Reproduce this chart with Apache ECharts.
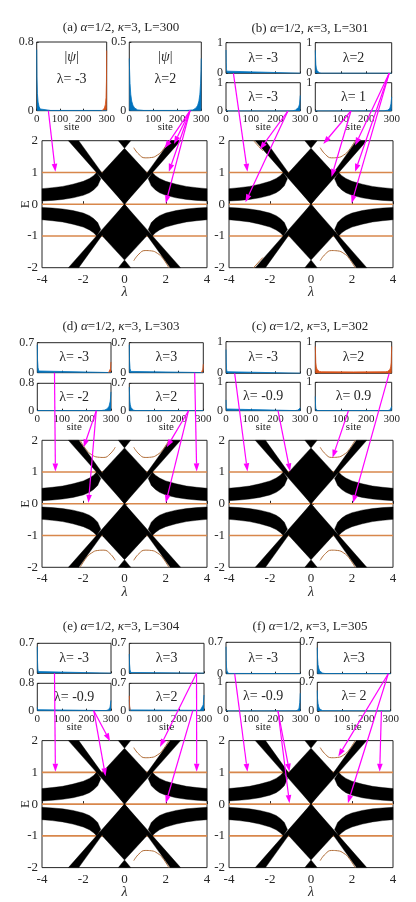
<!DOCTYPE html>
<html>
<head>
<meta charset="utf-8">
<script src="https://cdn.jsdelivr.net/npm/echarts/dist/echarts.min.js"></script>
<style>
  html, body { margin: 0; padding: 0; background: #fff; }
  #chart { width: 416px; height: 902px; }
</style>
</head>
<body>
<div id="chart"></div>
<script>
const FONT = '"Liberation Serif", "DejaVu Serif", serif';
const INK = '#262626';
const BLUE = '#0072BD';
const ORANGE = '#D95319';
const LEVEL = '#d8874b';
const ARC = '#b06c36';
const MAGENTA = '#ff00ff';

// ---- bulk spectrum (black), outlines as [lambda, E]
const bandUpperLeft = [[-4,0.49],[-3.5,0.52],[-3,0.56],[-2.5,0.63],[-2,0.72],[-1.7,0.81],[-1.5,0.9],[-1.35,1.0],[-1.15,0.8],[-1.3,0.58],[-1.5,0.45],[-1.7,0.36],[-2,0.28],[-2.5,0.2],[-3,0.15],[-3.5,0.12],[-4,0.1]];
const bandUpperRight = [[4,0.49],[3.5,0.52],[3,0.56],[2.5,0.63],[2,0.72],[1.7,0.81],[1.5,0.9],[1.35,1.0],[1.15,0.8],[1.3,0.58],[1.5,0.45],[1.7,0.36],[2,0.28],[2.5,0.2],[3,0.15],[3.5,0.12],[4,0.1]];
const bandLowerLeft = [[-4,-0.49],[-3.5,-0.52],[-3,-0.56],[-2.5,-0.63],[-2,-0.72],[-1.7,-0.81],[-1.5,-0.9],[-1.35,-1.0],[-1.15,-0.8],[-1.3,-0.58],[-1.5,-0.45],[-1.7,-0.36],[-2,-0.28],[-2.5,-0.2],[-3,-0.15],[-3.5,-0.12],[-4,-0.1]];
const bandLowerRight = [[4,-0.49],[3.5,-0.52],[3,-0.56],[2.5,-0.63],[2,-0.72],[1.7,-0.81],[1.5,-0.9],[1.35,-1.0],[1.15,-0.8],[1.3,-0.58],[1.5,-0.45],[1.7,-0.36],[2,-0.28],[2.5,-0.2],[3,-0.15],[3.5,-0.12],[4,-0.1]];
const stripDown = [[0,0],[-2.72,2],[-2.22,2],[0,0],[2.72,-2],[2.22,-2]];
const stripUp = [[0,0],[2.72,2],[2.22,2],[0,0],[-2.72,-2],[-2.22,-2]];
const coreUpper = [[0,0],[-1.12,0.92],[-1.05,1.02],[0,1.76],[1.05,1.02],[1.12,0.92]];
const coreLower = [[0,0],[-1.12,-0.92],[-1.05,-1.02],[0,-1.76],[1.05,-1.02],[1.12,-0.92]];
const capTop = [[-0.3,2],[0,1.76],[0.3,2]];
const capBottom = [[-0.3,-2],[0,-1.76],[0.3,-2]];
const bulkBands = [bandUpperLeft, bandUpperRight, bandLowerLeft, bandLowerRight, stripDown, stripUp, coreUpper, coreLower, capTop, capBottom];

// flat edge-state levels
const flatLevels = [1, 0, -1];
const lambdaEnds = [-4, 4];

// edge-state arcs
const arcUpperRight = [[0.45,1.78],[0.7,1.57],[1.0,1.46],[1.3,1.47],[1.6,1.55],[1.85,1.7],[2.15,2.0]];
const arcLowerRight = [[0.45,-1.78],[0.7,-1.57],[1.0,-1.46],[1.3,-1.47],[1.6,-1.55],[1.85,-1.7],[2.15,-2.0]];
const arcUpperLeft = [[-0.45,1.78],[-0.7,1.57],[-1.0,1.46],[-1.3,1.47],[-1.6,1.55],[-1.85,1.7],[-2.15,2.0]];
const arcLowerLeft = [[-0.45,-1.78],[-0.7,-1.57],[-1.0,-1.46],[-1.3,-1.47],[-1.6,-1.55],[-1.85,-1.7],[-2.15,-2.0]];
const dipUpperRight = [[0.8,0.95],[1.0,0.88],[1.25,0.9],[1.4,0.97]];
const dipLowerRight = [[0.8,-0.95],[1.0,-0.88],[1.25,-0.9],[1.4,-0.97]];
const dipUpperLeft = [[-0.8,0.95],[-1.0,0.88],[-1.25,0.9],[-1.4,0.97]];
const dipLowerLeft = [[-0.8,-0.95],[-1.0,-0.88],[-1.25,-0.9],[-1.4,-0.97]];
const edgeUpperLeft = [[-2.8,2.0],[-2.55,1.82],[-2.35,1.68]];
const edgeLowerLeft = [[-2.8,-2.0],[-2.55,-1.82],[-2.35,-1.68]];

// ---- |psi| vs site for the insets, [site, |psi|]
const psiA1 = [[0,0.71],[1,0.4],[3,0.2],[6,0.1],[10,0.05],[15,0.02],[22,0.006],[60,0.003],[300,0.003]];
const psiA1o = [[280,0],[285,0.01],[290,0.03],[294,0.07],[297,0.15],[299,0.35],[300,0.7]];
const psiA2 = [[0,0.38],[1,0.3],[3,0.2],[6,0.12],[10,0.07],[15,0.04],[22,0.02],[35,0.006],[60,0.002],[240,0.002],[265,0.006],[278,0.02],[285,0.04],[290,0.07],[294,0.12],[297,0.2],[299,0.3],[300,0.38]];
const psiB1 = [[0,0.76],[1,0.35],[2,0.15],[3,0.07],[5,0.02],[8,0.005],[300,0.003]];
const psiB2 = [[0,0.75],[2,0.3],[4,0.17],[7,0.09],[11,0.04],[16,0.015],[25,0.004],[300,0.003]];
const psiB3 = [[0,0.003],[250,0.003],[270,0.01],[280,0.03],[288,0.07],[293,0.13],[297,0.25],[300,0.55]];
const psiB4 = [[0,0.003],[270,0.005],[285,0.03],[293,0.1],[297,0.25],[300,0.5]];
const psiD1 = [[0,0.65],[1,0.3],[3,0.12],[6,0.04],[10,0.01],[300,0.003]];
const psiD1o = [[290,0],[295,0.03],[298,0.1],[300,0.25]];
const psiD2 = [[0,0.65],[1,0.28],[3,0.1],[6,0.03],[12,0.005],[300,0.003]];
const psiD2o = [[292,0],[296,0.03],[298,0.08],[300,0.2]];
const psiD3 = [[0,0.003],[260,0.004],[275,0.02],[285,0.06],[292,0.13],[297,0.28],[300,0.55]];
const psiD4 = [[0,0.6],[2,0.25],[4,0.15],[7,0.08],[11,0.04],[16,0.015],[25,0.004],[300,0.003]];
const psiC1 = [[0,0.75],[1,0.35],[2,0.15],[4,0.05],[7,0.01],[300,0.003]];
const psiC2o = [[0,0.85],[2,0.35],[4,0.2],[7,0.12],[11,0.08],[16,0.06],[25,0.05],[150,0.045],[275,0.05],[284,0.06],[289,0.08],[293,0.12],[296,0.2],[298,0.35],[300,0.85]];
const psiC3 = [[0,0.38],[1,0.15],[2,0.06],[4,0.02],[8,0.004],[280,0.004],[290,0.02],[296,0.05],[300,0.1]];
const psiC4 = [[0,0.5],[1,0.2],[2,0.08],[4,0.03],[8,0.005],[285,0.005],[294,0.03],[298,0.08],[300,0.15]];
const psiE1 = [[0,0.62],[1,0.28],[2,0.12],[4,0.04],[8,0.008],[300,0.003]];
const psiE2 = [[0,0.45],[1,0.22],[3,0.08],[6,0.02],[300,0.003]];
const psiE3 = [[0,0.1],[1,0.03],[3,0.005],[280,0.004],[290,0.03],[296,0.1],[300,0.3]];
const psiE4 = [[0,0.28],[1,0.1],[3,0.02],[8,0.004],[285,0.01],[293,0.05],[297,0.15],[300,0.4]];
const psiE4o = [[0,0.38],[1,0.15],[2,0.05],[4,0.01]];
const psiF1 = [[0,0.6],[1,0.3],[2,0.15],[4,0.06],[6,0.025],[10,0.006],[300,0.003]];
const psiF2 = [[0,0.58],[1,0.35],[3,0.2],[6,0.12],[10,0.06],[15,0.03],[22,0.012],[32,0.004],[300,0.003]];
const psiF3 = [[0,0.003],[280,0.005],[290,0.03],[295,0.1],[298,0.3],[300,0.62]];
const psiF4 = [[0,0.5],[1,0.3],[3,0.18],[6,0.1],[10,0.05],[15,0.02],[22,0.008],[300,0.003]];

// ---- arrows: [inset, site, lambda, E]
const arrowsA = [[0,50,-3.35,1.02],[1,253,1.95,1.76],[1,253,2.15,1.02],[1,253,2.0,0.03],[1,253,2.4,1.9]];
const arrowsB = [[0,30,-3.1,1.02],[2,250,-2.5,1.72],[2,250,-3.2,0.06],[1,290,2.15,1.85],[1,290,2.15,1.02],[1,290,1.98,0.03],[3,140,0.6,1.9],[3,140,1.0,0.86]];
const arrowsD = [[0,70,-3.35,1.02],[2,240,-1.98,1.78],[2,240,-1.75,0.03],[1,265,3.5,1.02],[3,240,2.05,1.78],[3,240,2.0,0.03]];
const arrowsC = [[0,35,-3.1,1.02],[2,210,-1.02,1.02],[1,290,2.05,0.03],[3,130,1.05,1.45]];
const arrowsE = [[0,70,-3.35,1.02],[2,230,-0.92,0.88],[2,230,-0.7,1.98],[1,270,3.5,1.02],[1,270,1.72,1.8],[3,255,2.0,0.03]];
const arrowsF = [[0,35,-3.1,1.02],[2,210,-1.05,1.02],[2,210,-1.05,0.03],[1,290,1.33,1.5],[1,290,1.8,0.03],[3,262,3.35,1.02]];

// ---- layout of the six panels
const panels = [
  { title: '(a) {g|α}=1/2, {g|κ}=3, L=300', tx: 121, ty: 28, left: 42, top: 140.7, width: 165, yName: 'E',
    arcs: [arcUpperRight, arcLowerRight], arrows: arrowsA,
    insets: [
      { box: [36.7, 42, 70, 68.7], ymax: 0.8, blue: psiA1, orange: psiA1o, text: 'λ= -3', psi: true, xlab: true },
      { box: [129.3, 42, 72, 68.7], ymax: 0.5, blue: psiA2, text: 'λ=2', psi: true, xlab: true }
    ] },
  { title: '(b) {g|α}=1/2, {g|κ}=3, L=301', tx: 310, ty: 29, left: 229, top: 140.7, width: 164, yName: '',
    arcs: [arcUpperRight, arcLowerRight, dipUpperRight, dipLowerRight, edgeUpperLeft, edgeLowerLeft], arrows: arrowsB,
    insets: [
      { box: [226, 42.7, 74.3, 30.6], ymax: 1, blue: psiB1, text: 'λ= -3' },
      { box: [315.3, 42.7, 76.4, 30.6], ymax: 1, blue: psiB2, text: 'λ=2' },
      { box: [226, 82.7, 74.3, 28.3], ymax: 1, blue: psiB3, text: 'λ= -3', xlab: true },
      { box: [315.3, 82.7, 76.4, 28.3], ymax: 1, blue: psiB4, text: 'λ= 1', xlab: true }
    ] },
  { title: '(d) {g|α}=1/2, {g|κ}=3, L=303', tx: 121, ty: 327, left: 42, top: 440.3, width: 165, yName: 'E',
    arcs: [arcUpperRight, arcLowerRight, arcUpperLeft, arcLowerLeft], arrows: arrowsD,
    insets: [
      { box: [37.3, 342.7, 73.7, 30], ymax: 0.7, blue: psiD1, orange: psiD1o, text: 'λ= -3' },
      { box: [129.3, 342.7, 74, 30], ymax: 0.7, blue: psiD2, orange: psiD2o, text: 'λ=3' },
      { box: [37.3, 383.3, 73.7, 27.4], ymax: 0.8, blue: psiD3, text: 'λ= -2', xlab: true },
      { box: [129.3, 383.3, 74, 27.4], ymax: 0.7, blue: psiD4, text: 'λ=2', xlab: true }
    ] },
  { title: '(c) {g|α}=1/2, {g|κ}=3, L=302', tx: 310, ty: 327, left: 229, top: 440.3, width: 164, yName: '',
    arcs: [arcUpperRight, arcLowerRight], arrows: arrowsC,
    insets: [
      { box: [226, 341.7, 74.3, 31.6], ymax: 1, blue: psiC1, text: 'λ= -3' },
      { box: [315.3, 341.7, 76.4, 31.6], ymax: 1, orange: psiC2o, text: 'λ=2' },
      { box: [226, 382.3, 74.3, 28.4], ymax: 1, blue: psiC3, text: 'λ= -0.9', xlab: true },
      { box: [315.3, 382.3, 76.4, 28.4], ymax: 1, blue: psiC4, text: 'λ= 0.9', xlab: true }
    ] },
  { title: '(e) {g|α}=1/2, {g|κ}=3, L=304', tx: 121, ty: 627, left: 42, top: 740.6, width: 165, yName: 'E',
    arcs: [arcUpperRight, arcLowerRight, dipUpperLeft, dipLowerLeft], arrows: arrowsE,
    insets: [
      { box: [37.3, 643.3, 73.7, 30], ymax: 0.7, blue: psiE1, text: 'λ= -3' },
      { box: [129.3, 643.3, 74.7, 30], ymax: 0.7, blue: psiE2, text: 'λ=3' },
      { box: [37.3, 683.3, 73.7, 27.4], ymax: 0.8, blue: psiE3, text: 'λ= -0.9', xlab: true },
      { box: [129.3, 683.3, 74.7, 27.4], ymax: 0.7, blue: psiE4, orange: psiE4o, text: 'λ=2', xlab: true }
    ] },
  { title: '(f) {g|α}=1/2, {g|κ}=3, L=305', tx: 310, ty: 627, left: 229, top: 740.6, width: 164, yName: '',
    arcs: [arcUpperRight, arcLowerRight], arrows: arrowsF,
    insets: [
      { box: [226, 642.3, 74.3, 31.4], ymax: 0.7, blue: psiF1, text: 'λ= -3' },
      { box: [317.3, 642.3, 73.4, 31.4], ymax: 0.7, blue: psiF2, text: 'λ=3' },
      { box: [226, 682.3, 74.3, 28.7], ymax: 1, blue: psiF3, text: 'λ= -0.9', xlab: true },
      { box: [317.3, 682.3, 73.4, 28.7], ymax: 0.7, blue: psiF4, text: 'λ= 2', xlab: true }
    ] }
];

const chart = echarts.init(document.getElementById('chart'));
const option = { animation: false, backgroundColor: '#fff', grid: [], xAxis: [], yAxis: [], series: [] };

function areaSeries(g, data, color) {
  return {
    type: 'line', xAxisIndex: g, yAxisIndex: g, data: data, showSymbol: false, silent: true,
    lineStyle: { color: color, width: 0.8 }, areaStyle: { color: color, opacity: 1 }, z: 2
  };
}

panels.forEach((p) => {
  const g = option.grid.length;
  p.mainGrid = g;
  option.grid.push({ left: p.left, top: p.top, width: p.width, height: 127, show: true, borderColor: INK, borderWidth: 1 });
  option.xAxis.push({
    gridIndex: g, type: 'value', min: -4, max: 4, interval: 2,
    axisLine: { show: false }, splitLine: { show: false },
    axisTick: { inside: true, length: 3, lineStyle: { color: INK } },
    axisLabel: { fontFamily: FONT, fontSize: 13, color: INK, margin: 5 },
    name: 'λ', nameLocation: 'middle', nameGap: 18, nameMoveOverlap: false,
    nameTextStyle: { fontFamily: FONT, fontStyle: 'italic', fontSize: 14, color: INK }
  });
  option.yAxis.push({
    gridIndex: g, type: 'value', min: -2, max: 2, interval: 1,
    axisLine: { show: false }, splitLine: { show: false },
    axisTick: { inside: true, length: 3, lineStyle: { color: INK } },
    axisLabel: { fontFamily: FONT, fontSize: 13, color: INK, margin: 4 },
    name: p.yName, nameLocation: 'middle', nameGap: 10, nameRotate: 90, nameMoveOverlap: false,
    nameTextStyle: { fontFamily: FONT, fontSize: 13, color: INK }
  });
  // flat levels and arcs (edge states)
  flatLevels.forEach((e) => {
    option.series.push({
      type: 'line', xAxisIndex: g, yAxisIndex: g, data: lambdaEnds.map((l) => [l, e]),
      showSymbol: false, silent: true, lineStyle: { color: LEVEL, width: 1.6 }, z: 2
    });
  });
  p.arcs.forEach((arc) => {
    option.series.push({
      type: 'line', xAxisIndex: g, yAxisIndex: g, data: arc, smooth: true,
      showSymbol: false, silent: true, lineStyle: { color: ARC, width: 1 }, z: 2
    });
  });
  // bulk bands
  option.series.push({
    type: 'custom', xAxisIndex: g, yAxisIndex: g, silent: true, z: 3,
    data: bulkBands.map((b, i) => [i]),
    renderItem: (params, api) => ({
      type: 'polygon',
      shape: { points: bulkBands[params.dataIndex].map((pt) => api.coord(pt)) },
      style: { fill: '#000', stroke: '#000', lineWidth: 0.4 }
    })
  });

  p.insetGrids = [];
  p.insets.forEach((ins) => {
    const k = option.grid.length;
    p.insetGrids.push(k);
    const [l, t, w, h] = ins.box;
    option.grid.push({ left: l, top: t, width: w, height: h, show: true, borderColor: INK, borderWidth: 1 });
    option.xAxis.push({
      gridIndex: k, type: 'value', min: 0, max: 300, interval: 100,
      axisLine: { show: false }, splitLine: { show: false },
      axisTick: { inside: true, length: 2, lineStyle: { color: INK } },
      axisLabel: { show: !!ins.xlab, fontFamily: FONT, fontSize: 11, color: INK, margin: 3 },
      name: ins.xlab ? 'site' : '', nameLocation: 'middle', nameGap: 11, nameMoveOverlap: false,
      nameTextStyle: { fontFamily: FONT, fontSize: 11, color: INK }
    });
    option.yAxis.push({
      gridIndex: k, type: 'value', min: 0, max: ins.ymax, interval: ins.ymax,
      axisLine: { show: false }, splitLine: { show: false },
      axisTick: { inside: true, length: 2, lineStyle: { color: INK } },
      axisLabel: { fontFamily: FONT, fontSize: 12, color: INK, margin: 3 }
    });
    if (ins.blue) option.series.push(areaSeries(k, ins.blue, BLUE));
    if (ins.orange) option.series.push(areaSeries(k, ins.orange, ORANGE));
  });
});

chart.setOption(option);

// titles, inset captions and magenta arrows, placed through the grids' own scales
const graphics = [];
function caption(pos, text, size) {
  graphics.push({
    type: 'text', x: pos[0], y: pos[1], z: 50,
    style: {
      text: text, fontFamily: FONT, fontSize: size, fill: INK, align: 'center', verticalAlign: 'middle',
      rich: { g: { fontStyle: 'italic', fontFamily: FONT, fontSize: size, fill: INK } }
    }
  });
}
panels.forEach((p) => {
  caption([p.tx, p.ty], p.title, 13);
  p.insets.forEach((ins, j) => {
    const k = p.insetGrids[j];
    if (ins.psi) {
      caption(chart.convertToPixel({ gridIndex: k }, [150, ins.ymax * 0.78]), '|{g|ψ}|', 14);
      caption(chart.convertToPixel({ gridIndex: k }, [150, ins.ymax * 0.45]), ins.text, 14);
    } else {
      caption(chart.convertToPixel({ gridIndex: k }, [150, ins.ymax * 0.5]), ins.text, 14);
    }
  });
  p.arrows.forEach(([k, site, lam, en]) => {
    const a = chart.convertToPixel({ gridIndex: p.insetGrids[k] }, [site, 0]);
    const b = chart.convertToPixel({ gridIndex: p.mainGrid }, [lam, en]);
    const dx = b[0] - a[0], dy = b[1] - a[1];
    const len = Math.hypot(dx, dy), ux = dx / len, uy = dy / len;
    const hl = 8, hw = 2.8;
    const base = [b[0] - ux * hl, b[1] - uy * hl];
    graphics.push({ type: 'line', z: 100, shape: { x1: a[0], y1: a[1], x2: base[0], y2: base[1] }, style: { stroke: MAGENTA, lineWidth: 1.2 } });
    graphics.push({
      type: 'polygon', z: 100,
      shape: { points: [b, [base[0] - uy * hw, base[1] + ux * hw], [base[0] + uy * hw, base[1] - ux * hw]] },
      style: { fill: MAGENTA }
    });
  });
});
chart.setOption({ graphic: graphics });
</script>
</body>
</html>
